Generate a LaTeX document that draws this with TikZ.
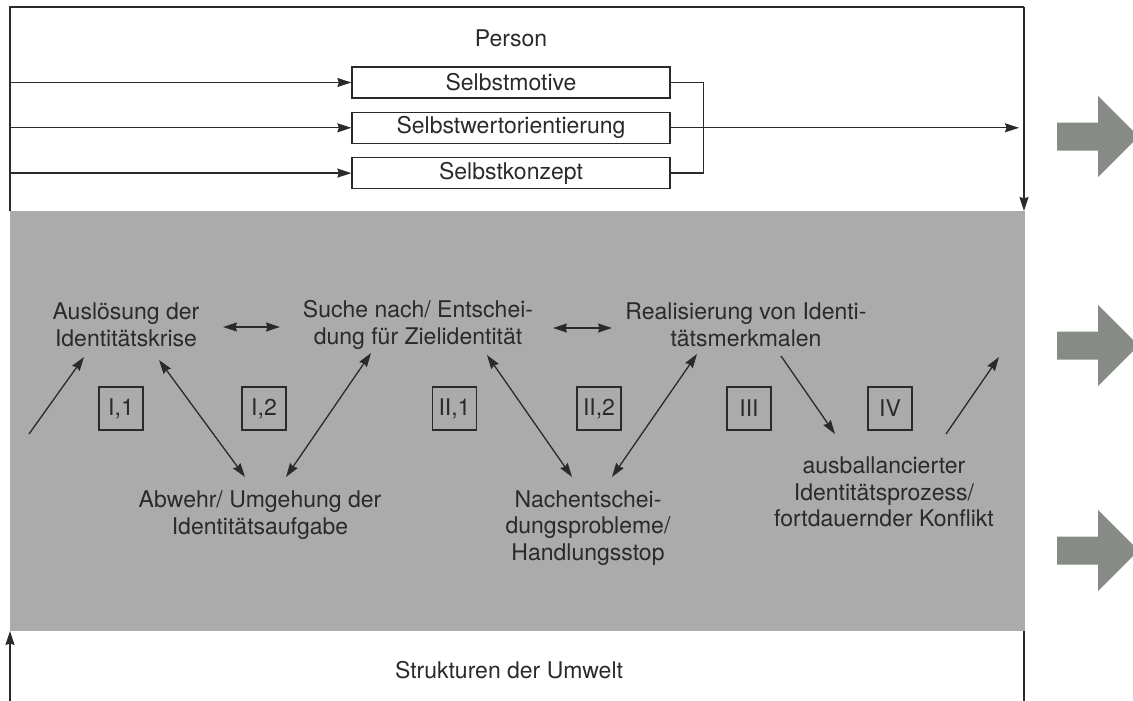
\documentclass[tikz,border=0pt]{standalone}
\usepackage{fontspec}
\setmainfont{TeX Gyre Heros}
\usepackage{tikz}
\usetikzlibrary{calc,positioning,arrows.meta}
\definecolor{inkgray}{HTML}{2A2A2A}
\definecolor{fieldgray}{HTML}{ABABAB}
\definecolor{flowgray}{HTML}{878B86}

\begin{document}
\begin{tikzpicture}[x=1pt, y=-1pt, align=center, color=inkgray, line width=1.3pt,
    font=\fontsize{23}{26.5}\selectfont,
    >={Stealth[length=14pt, width=9pt, inset=1.5pt]},
    selfbox/.style={draw, minimum width=318pt, minimum height=31pt, inner sep=0pt},
    phasebox/.style={draw, line width=1.1pt, minimum width=44pt, minimum height=43pt, inner sep=0pt},
    stage/.style={inner sep=0pt}]
    \useasboundingbox (0,0) rectangle (1133,701);

    % field of the identity process
    \fill[fieldgray] (10,211) rectangle (1025,631);
    \coordinate (tl) at (10,7);
    \coordinate (tr) at (1024,7);
    \coordinate (fnw) at (10,211);
    \coordinate (fne) at (1024,211);
    \coordinate (fsw) at (10,631);
    \coordinate (fse) at (1024,631);
    \coordinate (bl) at (10,701);
    \coordinate (br) at (1024,701);

    % person
    \node (person) at (511,38) {Person};
    \node [selfbox] (motive) at (511,82.5) {Selbstmotive};
    \node [selfbox, below=13pt of motive] (wert) {Selbstwertorientierung};
    \node [selfbox, below=13pt of wert] (konzept) {Selbstkonzept};

    \draw (fnw) -- (tl) -- (tr);
    \draw[->] (tr) -- (fne);
    \foreach \b in {motive,wert,konzept}
        \draw[->] (\b.west -| tl) -- (\b.west);
    \draw (motive.east) -- ++(33,0) |- (konzept.east);
    \draw[->, shorten >=5pt] (wert.east) -- (wert.east -| tr);

    % stages
    \node [stage] (krise) at (126,325) {Auslösung der\\Identitätskrise};
    \node [stage] (suche) at (418,325) {Suche nach/ Entschei-\\dung für Zielidentität};
    \node [stage] (real) at (746,325) {Realisierung von Identi-\\tätsmerkmalen};
    \node [stage] (abwehr) at (260,515) {Abwehr/ Umgehung der\\Identitätsaufgabe};
    \node [stage] (nach) at (588,528) {Nachentschei-\\dungsprobleme/\\Handlungsstop};
    \node [stage] (balance) at (884,492) {ausballancierter\\Identitätsprozess/\\fortdauernder Konflikt};

    \node [phasebox] (p11) at (121,408.5) {I,1};
    \node [phasebox] (p12) at (264,408.5) {I,2};
    \node [phasebox] (p21) at (454.5,408.5) {II,1};
    \node [phasebox] (p22) at (599,408.5) {II,2};
    \node [phasebox] (p3) at (749,408.5) {III};
    \node [phasebox] (p4) at (890,408.5) {IV};

    \coordinate (in) at (29,434);
    \coordinate (out) at (999,357);
    \draw[->] (in) -- ($(krise)+(-42,32)$);
    \draw[<->] ($(krise)+(97,2)$) -- ($(suche)+(-138,2)$);
    \draw[<->] ($(suche)+(135,3)$) -- ($(real)+(-134,3)$);
    \draw[<->] ($(krise)+(33,35)$) -- ($(abwehr)+(-15,-38)$);
    \draw[<->] ($(abwehr)+(26,-38)$) -- ($(suche)+(-47,28)$);
    \draw[<->] ($(suche)+(69,30)$) -- ($(nach)+(-16,-51)$);
    \draw[<->] ($(nach)+(24,-51)$) -- ($(real)+(-49,29)$);
    \draw[->] ($(real)+(35,31)$) -- ($(balance)+(-49,-58)$);
    \draw[->] ($(balance)+(62,-58)$) -- (out);

    % environment
    \node (umwelt) at (509,670) {Strukturen der Umwelt};
    \draw[->] (bl) -- (fsw);
    \draw (fse) -- (br);

    % outgoing arrows
    \foreach \y in {136.5,345.5,550.5}
        \fill[flowgray] (1057,\y-14) -- (1098,\y-14) -- (1098,\y-40.5) -- (1138.5,\y)
            -- (1098,\y+40.5) -- (1098,\y+14) -- (1057,\y+14) -- cycle;
\end{tikzpicture}
\end{document}
